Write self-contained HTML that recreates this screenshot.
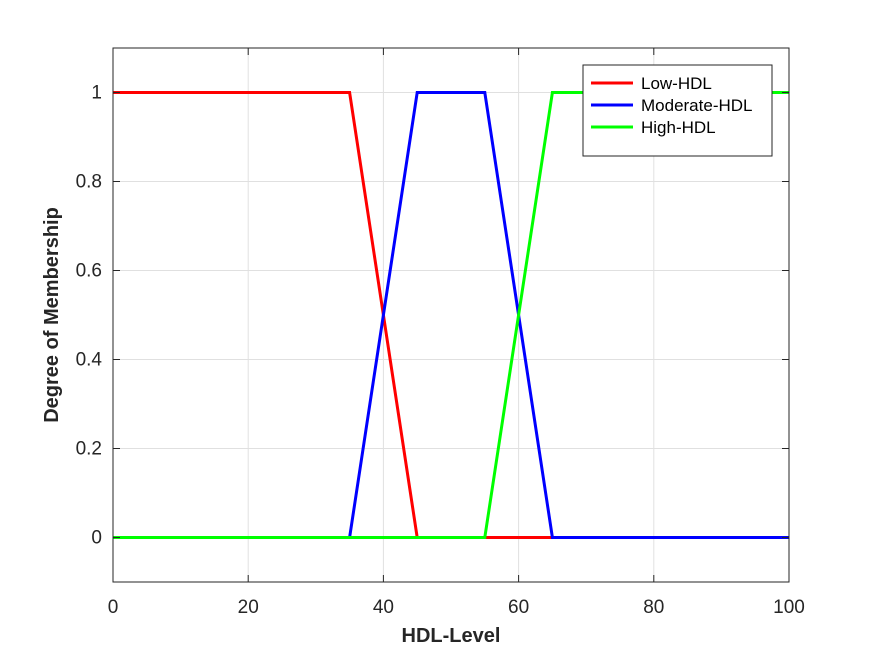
<!DOCTYPE html>
<html><head><meta charset="utf-8"><style>
body{margin:0;background:#fff;font-family:"Liberation Sans",sans-serif}
</style></head><body>
<svg id="chart" width="872" height="654" xmlns="http://www.w3.org/2000/svg" font-family="Liberation Sans, sans-serif">
<rect width="872" height="654" fill="#fff"/>
<g id="grid"></g>
<g id="series"></g>
<rect x="113" y="48" width="676" height="534" fill="none" stroke="#262626" stroke-width="1"/>
<g id="ticks"></g>
<text x="451" y="642" text-anchor="middle" font-size="20" font-weight="bold" fill="#262626">HDL-Level</text>
<text transform="translate(58,315) rotate(-90)" text-anchor="middle" font-size="20" font-weight="bold" fill="#262626">Degree of Membership</text>
<g>
<rect x="583" y="65" width="189" height="91" fill="#fff" stroke="#262626" stroke-width="1"/>
<g id="legend-items"></g>
</g>
</svg>
<script>
const xTicks=[0,20,40,60,80,100];
const yTicks=[0,0.2,0.4,0.6,0.8,1];
const yTickLabels=['0','0.2','0.4','0.6','0.8','1'];
const seriesNames=['Low-HDL','Moderate-HDL','High-HDL'];
const seriesColors=['#ff0000','#0000ff','#00ff00'];
const lowX=[0,35,45,100], lowY=[1,1,0,0];
const modX=[0,35,45,55,65,100], modY=[0,0,1,1,0,0];
const highX=[0,55,65,100], highY=[0,0,1,1];
const X0=113,X1=789,Y0=582,Y1=48;
const sx=v=>X0+(v-0)/(100-0)*(X1-X0);
const sy=v=>Y0-(v-(-0.1))/(1.2)*(Y0-Y1);
const NS='http://www.w3.org/2000/svg';
function mk(t,a,p){const e=document.createElementNS(NS,t);for(const k in a)e.setAttribute(k,a[k]);p.appendChild(e);return e;}
const grid=document.getElementById('grid'),ticks=document.getElementById('ticks');
xTicks.forEach(v=>{
 const g=mk('line',{x1:sx(v),x2:sx(v),y1:Y1,y2:Y0,stroke:'#e0e0e0'},grid);
 
 
 const t=mk('text',{x:sx(v),y:613,'text-anchor':'middle','font-size':19,fill:'#262626'},ticks);
 t.textContent=v;
 
 
 mk('line',{x1:sx(v),x2:sx(v),y1:Y0,y2:Y0-7,stroke:'#262626'},ticks);
 mk('line',{x1:sx(v),x2:sx(v),y1:Y1,y2:Y1+7,stroke:'#262626'},ticks);
});
yTicks.forEach((v,i)=>{
 const g=mk('line',{x1:X0,x2:X1,y1:sy(v),y2:sy(v),stroke:'#e0e0e0'},grid);
 
 
 const t=mk('text',{x:102,y:sy(v)+6,'text-anchor':'end','font-size':19,fill:'#262626'},ticks);
 t.textContent=yTickLabels[i];
 
 
 mk('line',{x1:X0,x2:X0+7,y1:sy(v),y2:sy(v),stroke:'#262626'},ticks);
 mk('line',{x1:X1,x2:X1-7,y1:sy(v),y2:sy(v),stroke:'#262626'},ticks);
});
const ser=document.getElementById('series');
[[lowX,lowY],[modX,modY],[highX,highY]].forEach((d,i)=>{
 const pts=d[0].map((x,j)=>sx(x)+','+sy(d[1][j])).join(' ');
 const p=mk('polyline',{points:pts,fill:'none',stroke:seriesColors[i],'stroke-width':3},ser);
 
 
});
const li=document.getElementById('legend-items');
seriesNames.forEach((n,i)=>{
 const y=83+i*22;
 mk('line',{x1:591,x2:633,y1:y,y2:y,stroke:seriesColors[i],'stroke-width':3},li);
 const t=mk('text',{x:641,y:y+6,'font-size':17,fill:'#000'},li);
 t.textContent=n;
 
 
});
</script>
</body></html>
